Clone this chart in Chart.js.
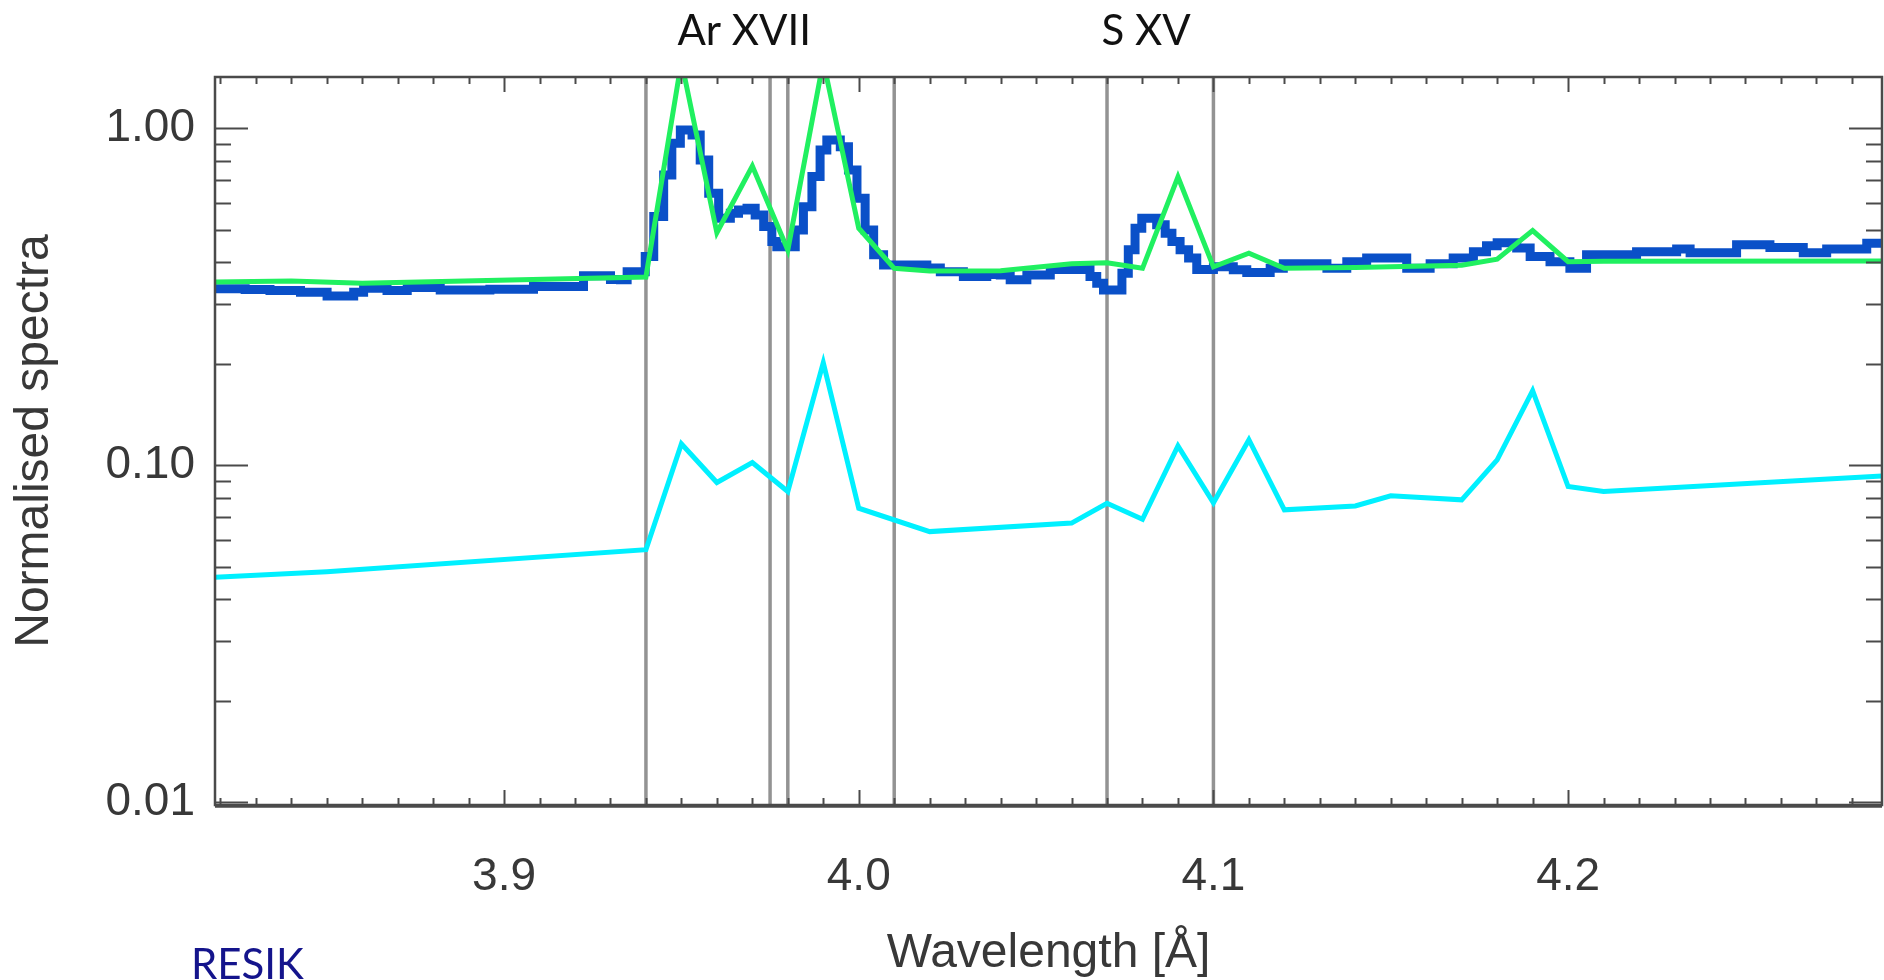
<!DOCTYPE html>
<html>
<head>
<meta charset="utf-8">
<title>RESIK spectra</title>
<script src="https://cdn.jsdelivr.net/npm/chart.js@4.4.1/dist/chart.umd.min.js"></script>
<style>
  html, body {margin: 0; padding: 0; background: #ffffff;}
  #wrap {width: 1884px; height: 980px;}
</style>
</head>
<body>
<div id="wrap"><canvas id="spectra" width="1884" height="980"></canvas></div>
<script>
const X_MIN = 3.8185;
const X_MAX = 4.2885;
const Y_MIN = 0.0098;
const Y_MAX = 1.42;

// observed RESIK spectrum, bin left edges [A] and normalised flux
const observedWave = [
  3.8185, 3.8270, 3.8340, 3.8426, 3.8501, 3.8576, 3.8604, 3.8670, 3.8727, 3.8820,
  3.8960, 3.9083, 3.9224, 3.9300, 3.9328, 3.9347, 3.9398, 3.9422, 3.9450, 3.9473,
  3.9497, 3.9530, 3.9553, 3.9577, 3.9605, 3.9638, 3.9661, 3.9685, 3.9708, 3.9732,
  3.9755, 3.9769, 3.9821, 3.9844, 3.9868, 3.9891, 3.9910, 3.9948, 3.9971, 3.9995,
  4.0018, 4.0042, 4.0070, 4.0108, 4.0192, 4.0230, 4.0295, 4.0361, 4.0399, 4.0427,
  4.0474, 4.0540, 4.0652, 4.0671, 4.0690, 4.0742, 4.0760, 4.0779, 4.0798, 4.0840,
  4.0864, 4.0883, 4.0906, 4.0930, 4.0953, 4.1000, 4.1056, 4.1094, 4.1160, 4.1197,
  4.1320, 4.1376, 4.1432, 4.1545, 4.1611, 4.1676, 4.1733, 4.1770, 4.1800, 4.1855,
  4.1893, 4.1949, 4.2005, 4.2052, 4.2193, 4.2306, 4.2344, 4.2475, 4.2569, 4.2663,
  4.2729, 4.2842, 4.2885
];
const observedFlux = [
  0.334, 0.332, 0.330, 0.326, 0.318, 0.326, 0.335, 0.330, 0.337, 0.331,
  0.333, 0.339, 0.365, 0.356, 0.355, 0.375, 0.416, 0.547, 0.727, 0.903,
  0.989, 0.955, 0.805, 0.641, 0.541, 0.560, 0.572, 0.579, 0.553, 0.511,
  0.461, 0.445, 0.499, 0.585, 0.719, 0.862, 0.923, 0.882, 0.752, 0.620,
  0.499, 0.421, 0.393, 0.393, 0.385, 0.375, 0.363, 0.368, 0.367, 0.355,
  0.367, 0.381, 0.363, 0.347, 0.331, 0.371, 0.436, 0.505, 0.541, 0.517,
  0.488, 0.461, 0.436, 0.412, 0.381, 0.388, 0.380, 0.373, 0.384, 0.396,
  0.384, 0.402, 0.412, 0.384, 0.396, 0.412, 0.430, 0.448, 0.457, 0.441,
  0.416, 0.402, 0.384, 0.421, 0.430, 0.438, 0.427, 0.451, 0.443, 0.427,
  0.438, 0.456, 0.456
];

// green synthetic spectrum
const modelWave = [
  3.8185, 3.84, 3.86, 3.94, 3.95, 3.96, 3.97, 3.98, 3.99, 4.00,
  4.01, 4.02, 4.04, 4.06, 4.07, 4.08, 4.09, 4.10, 4.11, 4.12,
  4.14, 4.15, 4.17, 4.18, 4.19, 4.20, 4.21, 4.2885
];
const modelFlux = [
  0.350, 0.352, 0.347, 0.362, 1.58, 0.490, 0.773, 0.435, 1.58, 0.505,
  0.384, 0.377, 0.378, 0.396, 0.399, 0.384, 0.718, 0.388, 0.426, 0.384,
  0.386, 0.388, 0.392, 0.409, 0.497, 0.402, 0.403, 0.404
];

// cyan spectrum
const cyanWave = [
  3.8185, 3.85, 3.94, 3.95, 3.96, 3.97, 3.98, 3.99, 4.00, 4.02,
  4.06, 4.07, 4.08, 4.09, 4.10, 4.11, 4.12, 4.14, 4.15, 4.17,
  4.18, 4.19, 4.20, 4.21, 4.2885
];
const cyanFlux = [
  0.0465, 0.0483, 0.0561, 0.1157, 0.0888, 0.1018, 0.0835, 0.2015, 0.0745, 0.0635,
  0.0673, 0.0771, 0.0691, 0.114, 0.0773, 0.119, 0.0737, 0.0757, 0.0811, 0.0789,
  0.1037, 0.1665, 0.0864, 0.0835, 0.0929
];

const markerWaves = [3.94, 3.975, 3.98, 4.01, 4.07, 4.10];
const ionLabels = [`Ar XVII`, `S XV`];
const ionLabelWaves = [3.9677, 4.081];
const xTickValues = [3.9, 4.0, 4.1, 4.2];
const yTickValues = [0.01, 0.1, 1];

const toPoints = (xs, ys) => xs.map((x, i) => ({x, y: ys[i]}));

const markerSets = markerWaves.map((w) => ({
  data: [{x: w, y: Y_MIN}, {x: w, y: Y_MAX}],
  borderColor: `#939393`,
  borderWidth: 3.5,
  pointRadius: 0,
  order: 10,
}));

const frameTicks = {
  id: `frameTicks`,
  afterDatasetsDraw(chart) {
    const {ctx, chartArea: a, scales: {x, y}} = chart;
    ctx.save();
    ctx.strokeStyle = `#4a4a4a`;
    ctx.lineWidth = 2;
    const seg = (x1, y1, x2, y2) => {
      ctx.beginPath();
      ctx.moveTo(x1, y1);
      ctx.lineTo(x2, y2);
      ctx.stroke();
    };
    for (let i = Math.ceil(x.min * 100); i <= Math.floor(x.max * 100); i++) {
      const px = Math.round(x.getPixelForValue(i / 100)) + 0.5;
      const len = i % 10 === 0 ? 15 : 7;
      seg(px, a.bottom, px, a.bottom - len);
      seg(px, a.top, px, a.top + len);
    }
    yTickValues.forEach((decade) => {
      for (let k = 1; k <= 9; k++) {
        const v = decade * k;
        if (v < y.min || v > y.max) {
          continue;
        }
        const py = Math.round(y.getPixelForValue(v)) + 0.5;
        const len = k === 1 ? 33 : 16;
        seg(a.left, py, a.left + len, py);
        seg(a.right, py, a.right - len, py);
      }
    });
    ctx.lineWidth = 2.5;
    ctx.strokeRect(a.left, a.top, a.right - a.left, a.bottom - a.top);
    ctx.lineWidth = 3.5;
    seg(a.left, a.bottom + 1, a.right, a.bottom + 1);

    ctx.font = `42px Lato`;
    ctx.textAlign = `center`;
    ctx.textBaseline = `alphabetic`;
    ctx.fillStyle = `#111111`;
    ionLabels.forEach((label, i) => {
      ctx.fillText(label, x.getPixelForValue(ionLabelWaves[i]), 45);
    });
    ctx.textAlign = `left`;
    ctx.fillStyle = `#14148c`;
    ctx.fillText(`RESIK`, 191, 979);
    ctx.restore();
  }
};

const ctx = document.getElementById(`spectra`).getContext(`2d`);

new Chart(ctx, {
  type: `line`,
  plugins: [frameTicks],
  data: {
    datasets: [
      ...markerSets,
      {
        data: toPoints(observedWave, observedFlux),
        borderColor: `#0a50c8`,
        borderWidth: 9,
        stepped: `before`,
        borderJoinStyle: `miter`,
        pointRadius: 0,
        order: 5,
      },
      {
        data: toPoints(cyanWave, cyanFlux),
        borderColor: `#00f0ff`,
        borderWidth: 5,
        pointRadius: 0,
        order: 4,
      },
      {
        data: toPoints(modelWave, modelFlux),
        borderColor: `#20f060`,
        borderWidth: 5,
        pointRadius: 0,
        order: 3,
      },
    ],
  },
  options: {
    responsive: false,
    animation: false,
    layout: {padding: {top: 77, right: 2, left: 0, bottom: 0}},
    plugins: {
      legend: {display: false},
      tooltip: {enabled: false},
    },
    scales: {
      x: {
        type: `linear`,
        min: X_MIN,
        max: X_MAX,
        grid: {display: false, drawTicks: false},
        border: {display: false},
        afterBuildTicks: (scale) => {
          scale.ticks = xTickValues.map((value) => ({value}));
        },
        afterFit: (scale) => {
          scale.height = 175;
        },
        ticks: {
          padding: 45,
          color: `#383838`,
          font: {family: `Liberation Sans`, size: 46},
          callback: (value) => Number(value).toFixed(1),
        },
        title: {
          display: true,
          text: `Wavelength [Å]`,
          color: `#383838`,
          font: {family: `Liberation Sans`, size: 48, lineHeight: 1.1},
          padding: {top: 0, bottom: 0},
        },
      },
      y: {
        type: `logarithmic`,
        min: Y_MIN,
        max: Y_MAX,
        grid: {display: false, drawTicks: false},
        border: {display: false},
        afterBuildTicks: (scale) => {
          scale.ticks = yTickValues.map((value) => ({value}));
        },
        afterFit: (scale) => {
          scale.width = 215;
        },
        ticks: {
          padding: 20,
          color: `#383838`,
          font: {family: `Liberation Sans`, size: 46},
          callback: (value) => Number(value).toFixed(2),
        },
        title: {
          display: true,
          text: `Normalised spectra`,
          color: `#383838`,
          font: {family: `Liberation Sans`, size: 48},
          padding: {top: 6, bottom: 0},
        },
      },
    },
  },
});
</script>
</body>
</html>
